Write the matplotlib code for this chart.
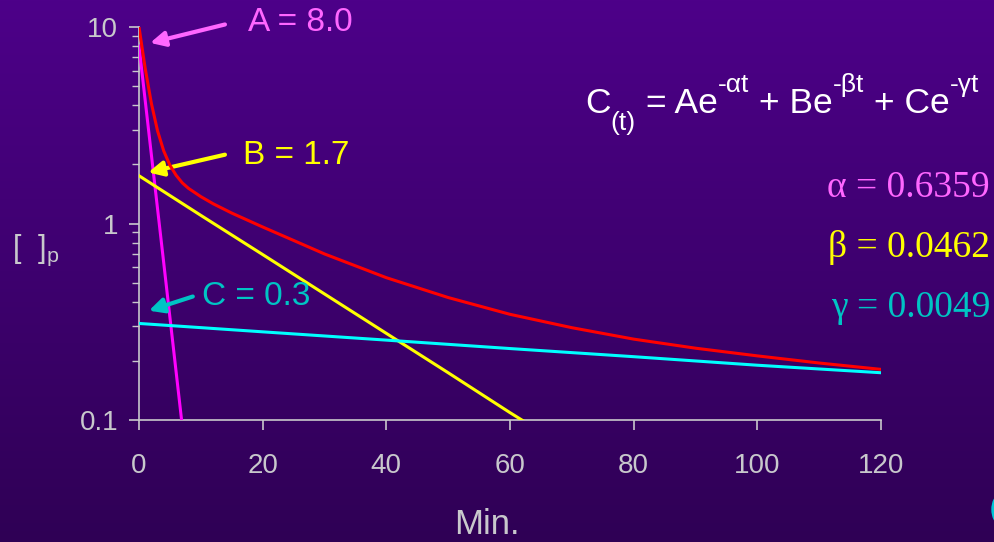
#!/usr/bin/env python3
import numpy as np
import matplotlib
matplotlib.use("Agg")
import matplotlib.pyplot as plt
from matplotlib.patches import Ellipse

# --- data (minutes, plasma conc.) ---
t_total = [0, 1, 2, 3, 4, 5, 6, 7, 8, 10, 12, 15, 20, 25, 30, 40, 50, 60, 70, 80, 90, 100, 110, 120]
c_total = [10.0, 6.16, 4.09, 2.96, 2.34, 1.98, 1.76, 1.61, 1.51, 1.37, 1.26, 1.13, 0.96, 0.82,
           0.70, 0.53, 0.42, 0.345, 0.295, 0.258, 0.232, 0.212, 0.195, 0.181]

t_a = [0, 2, 4, 6, 7, 7.5]
c_a = [8.0, 2.24, 0.63, 0.176, 0.093, 0.068]

t_b = [0, 10, 20, 30, 40, 50, 60, 65]
c_b = [1.75, 1.10, 0.695, 0.438, 0.276, 0.174, 0.109, 0.087]

t_c = [0, 20, 40, 60, 80, 100, 120]
c_c = [0.31, 0.281, 0.255, 0.231, 0.210, 0.190, 0.174]

x_ticks = [0, 20, 40, 60, 80, 100, 120]
y_ticks = [0.1, 1, 10]
y_ticklabels = ["0.1", "1", "10"]

SANS = ["Liberation Sans", "DejaVu Sans"]
SERIF = ["Liberation Serif", "DejaVu Serif"]
plt.rcParams["font.family"] = SANS
plt.rcParams["mathtext.fontset"] = "custom"
plt.rcParams["mathtext.rm"] = "Liberation Sans"
plt.rcParams["mathtext.it"] = "Liberation Sans"

GREY = "#c8c8cc"
VIOLET = "#ff66ff"
TEAL = "#00c4c4"

fig = plt.figure(figsize=(9.95, 5.42), dpi=100)

# background gradient
bg = fig.add_axes([0, 0, 1, 1], zorder=-10)
grad = np.linspace(0, 1, 256).reshape(-1, 1)
top = np.array([77, 0, 137]) / 255
bot = np.array([47, 0, 85]) / 255
img = top + (bot - top) * grad[:, :, None]
bg.imshow(img, aspect="auto", extent=[0, 1, 0, 1])
bg.set_xlim(0, 1)
bg.set_ylim(0, 1)
bg.axis("off")
bg.add_patch(Ellipse((1.004, 0.06), 0.014, 0.05, color="#00c8d8"))

ax = fig.add_axes([139 / 995, 1 - 420 / 542, 742 / 995, 393 / 542])
ax.patch.set_alpha(0)

ax.plot(t_a, c_a, color="#ff00ff", lw=2.2, zorder=3)
ax.plot(t_b, c_b, color="#ffff00", lw=2.2, zorder=3)
ax.plot(t_c, c_c, color="#00ffff", lw=2.2, zorder=3)
ax.plot(t_total, c_total, color="#ff0000", lw=2.2, zorder=4)

ax.set_yscale("log")
ax.set_xlim(0, 120)
ax.set_ylim(0.1, 10)
ax.set_xticks(x_ticks)
ax.set_yticks(y_ticks)
ax.set_yticklabels(y_ticklabels)
ax.yaxis.set_minor_locator(matplotlib.ticker.LogLocator(base=10, subs=np.arange(2, 10)))
ax.yaxis.set_minor_formatter(matplotlib.ticker.NullFormatter())

for s in ["top", "right"]:
    ax.spines[s].set_visible(False)
for s in ["left", "bottom"]:
    ax.spines[s].set_color(GREY)
    ax.spines[s].set_linewidth(1.2)

ax.tick_params(axis="both", which="major", colors=GREY, width=1.2, length=7,
               labelsize=20, labelcolor=GREY, direction="out")
ax.tick_params(axis="y", which="minor", colors=GREY, width=1.0, length=5, direction="out")
ax.tick_params(axis="x", pad=17)
ax.tick_params(axis="y", pad=8)

fig.text(487 / 995, 1 - 525 / 542, "Min.", color=GREY, fontsize=25, ha="center", va="center")
fig.text(12 / 995, 1 - 250 / 542, r"$\mathregular{[\ \ ]_p}$", color=GREY, fontsize=22,
         ha="left", va="center")

# curve labels with arrows
labels = [
    ("A = 8.0", VIOLET, (17.6, 10.6), (13.9, 10.3), (1.8, 8.3)),
    ("B = 1.7", "#ffff00", (16.8, 2.22), (13.9, 2.24), (1.5, 1.82)),
    ("C = 0.3", TEAL, (10.2, 0.425), (8.7, 0.425), (1.6, 0.36)),
]
for txt, col, tpos, tail, tip in labels:
    ax.text(tpos[0], tpos[1], txt, color=col, fontsize=24, ha="left", va="center", clip_on=False)
    ax.annotate("", xy=tip, xytext=tail, annotation_clip=False,
                arrowprops=dict(arrowstyle="-|>", color=col, lw=3, mutation_scale=22,
                                shrinkA=0, shrinkB=0))

# formula built from pieces so spacing stays plain
formula = [("C", None), ("(t)", "sub"), (" = Ae", None), ("-αt", "sup"),
           (" + Be", None), ("-βt", "sup"), (" + Ce", None), ("-γt", "sup")]
fig.canvas.draw()
renderer = fig.canvas.get_renderer()
xpix = 585
base = 1 - 113 / 542
for piece, kind in formula:
    size = 25.5 if kind is None else 19
    dy = 0 if kind is None else (-17 / 542 if kind == "sub" else 21 / 542)
    t = fig.text(xpix / 995, base + dy, piece, color="white", fontsize=size,
                 ha="left", va="baseline")
    xpix += t.get_window_extent(renderer).width

params = [("α = 0.6359", VIOLET, 197), ("β = 0.0462", "#ffff00", 257), ("γ = 0.0049", TEAL, 317)]
for txt, col, base_y in params:
    fig.text(990 / 995, 1 - base_y / 542, txt, color=col, fontsize=27, family=SERIF,
             ha="right", va="baseline")

fig.savefig("out.png", dpi=100)
